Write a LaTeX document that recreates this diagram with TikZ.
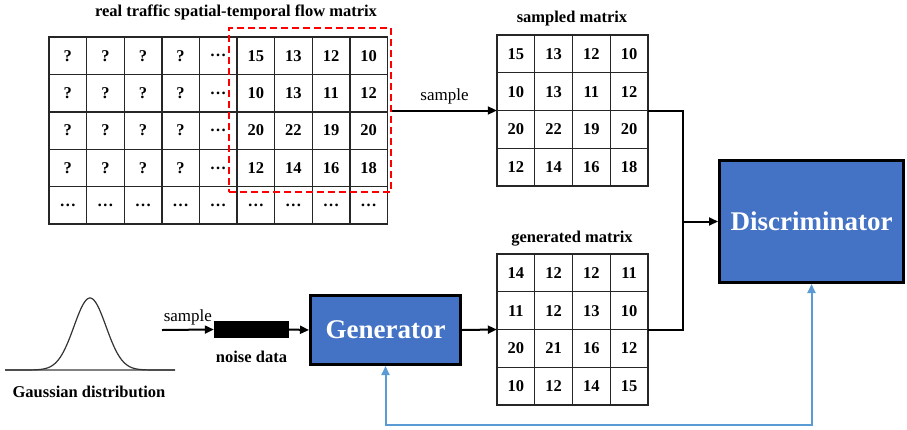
\documentclass[tikz,border=0pt]{standalone}
\usepackage{fontspec}
\setmainfont{Liberation Serif}
\usetikzlibrary{arrows.meta,positioning,calc}
\definecolor{boxblue}{HTML}{4472C4}
\definecolor{linkblue}{HTML}{5B9BD5}
\tikzset{
  cell/.style={rectangle,draw=black!85,line width=1.4pt,inner sep=0pt,
    minimum width=#1,minimum height=37.4pt,
    font=\bfseries\fontsize{16.5}{16.5}\selectfont},
  cell/.default=37.6pt,
  gridbox/.style={rectangle,inner sep=0pt,minimum width=151pt,minimum height=151pt},
  title/.style={font=\bfseries\fontsize{16.5}{16.5}\selectfont},
  netbox/.style={rectangle,draw=black,line width=3pt,fill=boxblue,text=white,
    font=\bfseries\fontsize{27}{27}\selectfont},
  flow/.style={line width=2pt,-{Triangle[length=9pt,width=8pt]}},
}
\begin{document}
\begin{tikzpicture}[x=1pt,y=-1pt]
  \useasboundingbox (0,0) rectangle (907,429);

  % real traffic matrix
  \foreach \row [count=\i] in {{?,?,?,?,…,15,13,12,10},{?,?,?,?,…,10,13,11,12},
      {?,?,?,?,…,20,22,19,20},{?,?,?,?,…,12,14,16,18},{…,…,…,…,…,…,…,…,…}}
    \foreach \val [count=\j] in \row
      \node[cell] (real-\i-\j) at ({49+37.6*(\j-0.5)},{37+37.4*(\i-0.5)}) {\val};
  \node[title] (realtitle) at (236,12) {real traffic spatial-temporal flow matrix};
  \node[rectangle,draw=red,line width=2.5pt,dash pattern=on 7pt off 4pt,
    minimum width=162pt,minimum height=164pt] (win) at (310,110) {};

  % sampled matrix
  \node[gridbox] (smat) at (572.5,110.5) {};
  \foreach \row [count=\i] in {{15,13,12,10},{10,13,11,12},{20,22,19,20},{12,14,16,18}}
    \foreach \val [count=\j] in \row
      \node[cell=37.75pt,minimum height=37.75pt] (s-\i-\j)
        at ({497+37.75*(\j-0.5)},{35+37.75*(\i-0.5)}) {\val};
  \node[title] (stitle) at (572,19) {sampled matrix};

  % generated matrix
  \node[gridbox] (gmat) at (572.5,329.5) {};
  \foreach \row [count=\i] in {{14,12,12,11},{11,12,13,10},{20,21,16,12},{10,12,14,15}}
    \foreach \val [count=\j] in \row
      \node[cell=37.75pt,minimum height=37.75pt] (g-\i-\j)
        at ({497+37.75*(\j-0.5)},{254+37.75*(\i-0.5)}) {\val};
  \node[title] (gtitle) at (572,239) {generated matrix};

  % networks
  \node[netbox,minimum width=150pt,minimum height=69pt] (gen) at (385.5,330) {Generator};
  \node[netbox,minimum width=184pt,minimum height=122pt] (disc) at (811.5,221.5) {Discriminator};

  % gaussian and noise
  \draw[gray,line width=1.2pt] (5,370) -- (175,370);
  \draw[black!80,line width=1.2pt] plot[domain=-85:85,samples=120]
    ({90+\x},{370-72*exp(-((\x/16)^2)/2)});
  \node[title] (gausstitle) at (89,392) {Gaussian distribution};
  \node[rectangle,fill=black,minimum width=75pt,minimum height=17pt,inner sep=0pt]
    (noise) at (251.5,329.5) {};
  \node[title,below=9pt of noise] (noisetitle) {noise data};
  \coordinate (src) at (162,330);

  % connectors
  \draw[flow] (src) -- node[above,font=\fontsize{17}{17}\selectfont] {sample} (noise.west);
  \draw[flow] (noise.east) -- (gen.west);
  \draw[flow] (gen.east) -- (gmat.west);
  \draw[flow] (win.east |- smat.west) -- node[above=2pt,font=\fontsize{17}{17}\selectfont] {sample} (smat.west);
  \coordinate (join) at (683,221.5);
  \draw[line width=2pt] (smat.east) -| (join);
  \draw[line width=2pt] (gmat.east) -| (join);
  \draw[flow] (join) -- (disc.west);
  \coordinate (fb) at (0,425);
  \draw[linkblue,line width=2pt,{Triangle[length=9pt,width=8pt]}-{Triangle[length=9pt,width=8pt]}]
    (gen.south) |- (fb -| disc.south) -- (disc.south);
\end{tikzpicture}
\end{document}
